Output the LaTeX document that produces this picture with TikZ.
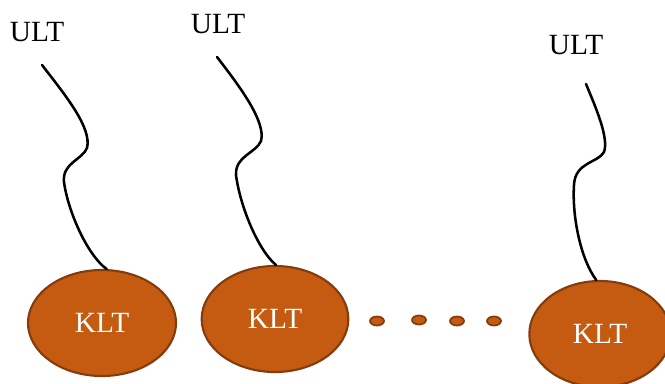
\documentclass[tikz,border=0pt]{standalone}
\usepackage{fontspec}
\setmainfont{Liberation Serif}
\usepackage{xcolor}
\usepackage{tikz}
\usetikzlibrary{shapes.geometric,positioning}

\definecolor{rust}{HTML}{C55A11}
\definecolor{rustedge}{HTML}{843C0C}

\begin{document}
\begin{tikzpicture}[x=0.75pt, y=-0.75pt, font=\fontsize{22}{26}\selectfont,
  klt/.style={ellipse, draw=rustedge, line width=1.6pt, fill=rust, text=white, minimum height=79.5pt, inner sep=0pt},
  bead/.style={ellipse, draw=rustedge, line width=1.3pt, fill=rust, minimum width=10.5pt, minimum height=6.8pt, inner sep=0pt},
  ult/.style={inner sep=0pt},
  wire/.style={line width=1.9pt, line cap=round}]
\path[use as bounding box, clip] (0,0) rectangle (665,383);

% the three KLT groups
\node[klt, minimum width=111pt] (k1) at (102,323) {KLT};
\node[klt, minimum width=110pt] (k2) at (275,319) {KLT};
\node[klt, minimum width=106pt] (k3) at (600,334) {KLT};

\node[ult] (u1) at (37,32) {ULT};
\node[ult] (u2) at (218,24) {ULT};
\node[ult] (u3) at (576,45) {ULT};

% dots in between
\node[bead] (d1) at (377,321) {};
\node[bead] (d2) at (419,320) {};
\node[bead] (d3) at (457,321) {};
\node[bead] (d4) at (494,321) {};

% wavy links
\draw[wire] (u1) ++(5,33) .. controls (66,96) and (92,128) .. (87,148)
  .. controls (82,160) and (62,163) .. (64,182)
  .. controls (68,212) and (88,256) .. (k1.85);
\draw[wire] (u2) ++(-1,33) .. controls (241,88) and (266,122) .. (261,141)
  .. controls (256,153) and (235,156) .. (236,175)
  .. controls (240,206) and (258,250) .. (k2.89);
\draw[wire] (u3) ++(10,39) .. controls (596,108) and (609,138) .. (604,152)
  .. controls (598,163) and (575,162) .. (574,185)
  .. controls (572,215) and (580,258) .. (k3.94);
\end{tikzpicture}
\end{document}
